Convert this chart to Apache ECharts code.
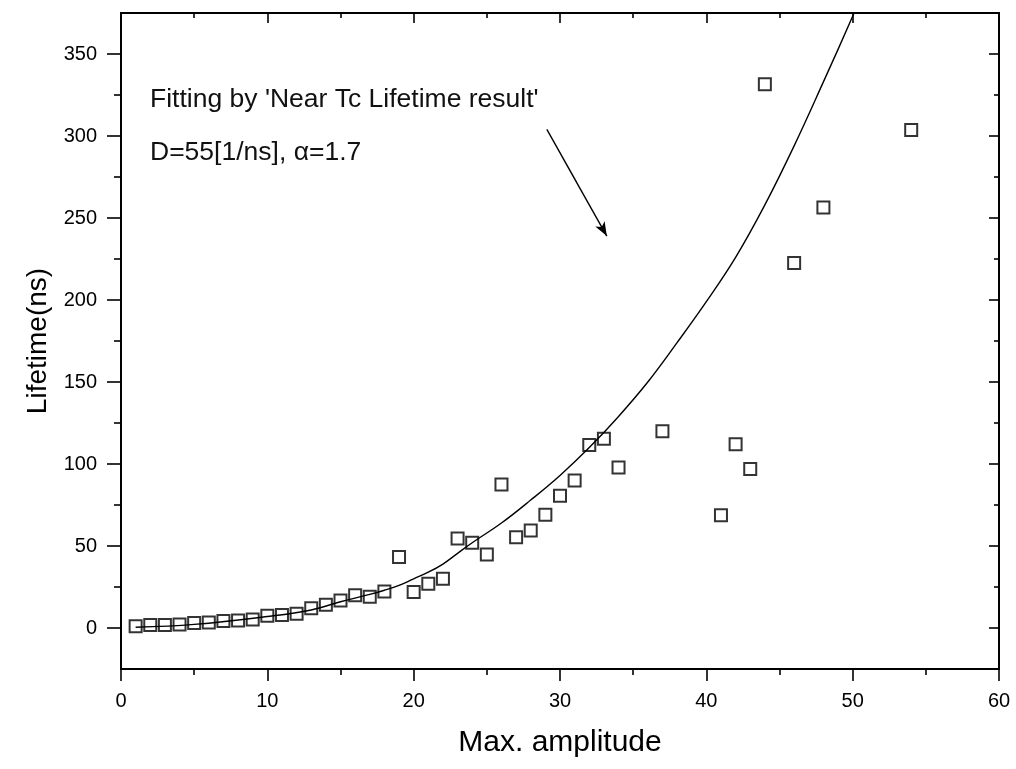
<!DOCTYPE html>
<html>
<head>
<meta charset="utf-8">
<script src="https://cdn.jsdelivr.net/npm/echarts@6/dist/echarts.min.js"></script>
<style>
html,body{margin:0;padding:0;background:#fff;}
#chart{width:1016px;height:769px;}
</style>
</head>
<body>
<div id="chart"></div>
<script>
// measured data (Max. amplitude vs Lifetime)
var ampValues = [1,2,3,4,5,6,7,8,9,10,11,12,13,14,15,16,17,18,19,20,21,22,23,24,25,26,27,28,29,30,31,32,33,34,37,41,42,43,44,46,48,54];
var lifeValues = [1,1.8,1.9,2.2,3,3.3,4.3,4.6,5.2,7.5,8,8.7,12,14.2,16.8,20,19,22.3,43.3,22,27,30,54.5,52,44.8,87.5,55.3,59.5,69,80.6,90,111.6,115.4,97.8,120,68.7,112,97,331.5,222.5,256.4,303.6];
// fitted curve
var fitX = [1,5,10,13,15,17,18,19,20,21,22,23,24,26,28,30,32,34,36,38,40,42,44,46,48,50,50.6];
var fitY = [0.5,2.2,7,11,16,20.5,23,26,30,34,39,45.5,52,64,78,93,110,129,150,174,199,226,258,294,333,373,386];
// axis ticks
var yMajorTicks = [0,50,100,150,200,250,300,350];
var yMinorTicks = [25,75,125,175,225,275,325];
// annotation arrow (data coords)
var arrowFrom = [29.1,304];
var arrowTo = [33.2,239];
var noteLines = ["Fitting by 'Near Tc Lifetime result'", "D=55[1/ns], \u03b1=1.7"];

var FONT = '"Liberation Sans", Arial, sans-serif';
var chart = echarts.init(document.getElementById('chart'), null, {renderer:'canvas'});

function yAxisDef(pos, ticks, len, inside, labels) {
  return {
    type:'value', position:pos, min:-25, max:375,
    axisLine:{show:true, onZero:false, lineStyle:{color:'#000', width:2}},
    axisTick:{show:true, inside:inside, length:len, customValues:ticks, lineStyle:{color:'#000', width:1.6}},
    axisLabel:{show:labels, customValues:ticks, margin:24, color:'#000', fontSize:20, fontFamily:FONT},
    splitLine:{show:false}
  };
}

var option = {
  backgroundColor:'#fff',
  animation:false,
  grid:{left:121, right:17, top:13, bottom:100, containLabel:false},
  xAxis:[
    {type:'value', position:'bottom', min:0, max:60, interval:10,
     name:'Max. amplitude', nameLocation:'middle', nameGap:59,
     nameTextStyle:{color:'#000', fontSize:30, fontFamily:FONT},
     axisLine:{show:true, onZero:false, lineStyle:{color:'#000', width:2}},
     axisTick:{show:true, inside:false, length:12, lineStyle:{color:'#000', width:1.6}},
     minorTick:{show:true, splitNumber:2, length:6, lineStyle:{color:'#000', width:1.6}},
     axisLabel:{show:true, margin:22, color:'#000', fontSize:20, fontFamily:FONT},
     splitLine:{show:false}},
    {type:'value', position:'top', min:0, max:60, interval:10,
     axisLine:{show:true, onZero:false, lineStyle:{color:'#000', width:2}},
     axisTick:{show:true, inside:true, length:10, lineStyle:{color:'#000', width:1.6}},
     minorTick:{show:true, splitNumber:2, length:5, lineStyle:{color:'#000', width:1.6}},
     axisLabel:{show:false},
     splitLine:{show:false}}
  ],
  yAxis:[
    Object.assign(yAxisDef('left', yMajorTicks, 14, false, true), {
      name:'Lifetime(ns)', nameLocation:'middle', nameGap:64, nameRotate:90,
      nameTextStyle:{color:'#000', fontSize:28, fontFamily:FONT}
    }),
    yAxisDef('left', yMinorTicks, 7, false, false),
    yAxisDef('right', yMajorTicks, 10, true, false),
    yAxisDef('right', yMinorTicks, 5, true, false)
  ],
  series:[
    {
      type:'line', xAxisIndex:0, yAxisIndex:0,
      data: fitX.map(function(x,i){return [x, fitY[i]];}),
      showSymbol:false, smooth:0.4, clip:true,
      lineStyle:{color:'#000', width:1.4},
      markLine:{
        silent:true, symbol:['none','arrow'], symbolSize:[8,14],
        label:{show:false},
        lineStyle:{color:'#000', width:1.4, type:'solid'},
        data:[[{coord:arrowFrom},{coord:arrowTo}]]
      },
      z:2
    },
    {
      type:'scatter', xAxisIndex:0, yAxisIndex:0,
      data: ampValues.map(function(x,i){return [x, lifeValues[i]];}),
      symbol:'rect', symbolSize:12,
      itemStyle:{color:'rgba(255,255,255,0)', borderColor:'#000', borderWidth:2},
      z:3
    }
  ],
  graphic:[
    {type:'text', left:150, top:86, style:{text:noteLines[0], fill:'#111', font:'26.5px '+FONT}},
    {type:'text', left:150, top:139, style:{text:noteLines[1], fill:'#111', font:'26.5px '+FONT}}
  ]
};
chart.setOption(option);
</script>
</body>
</html>
